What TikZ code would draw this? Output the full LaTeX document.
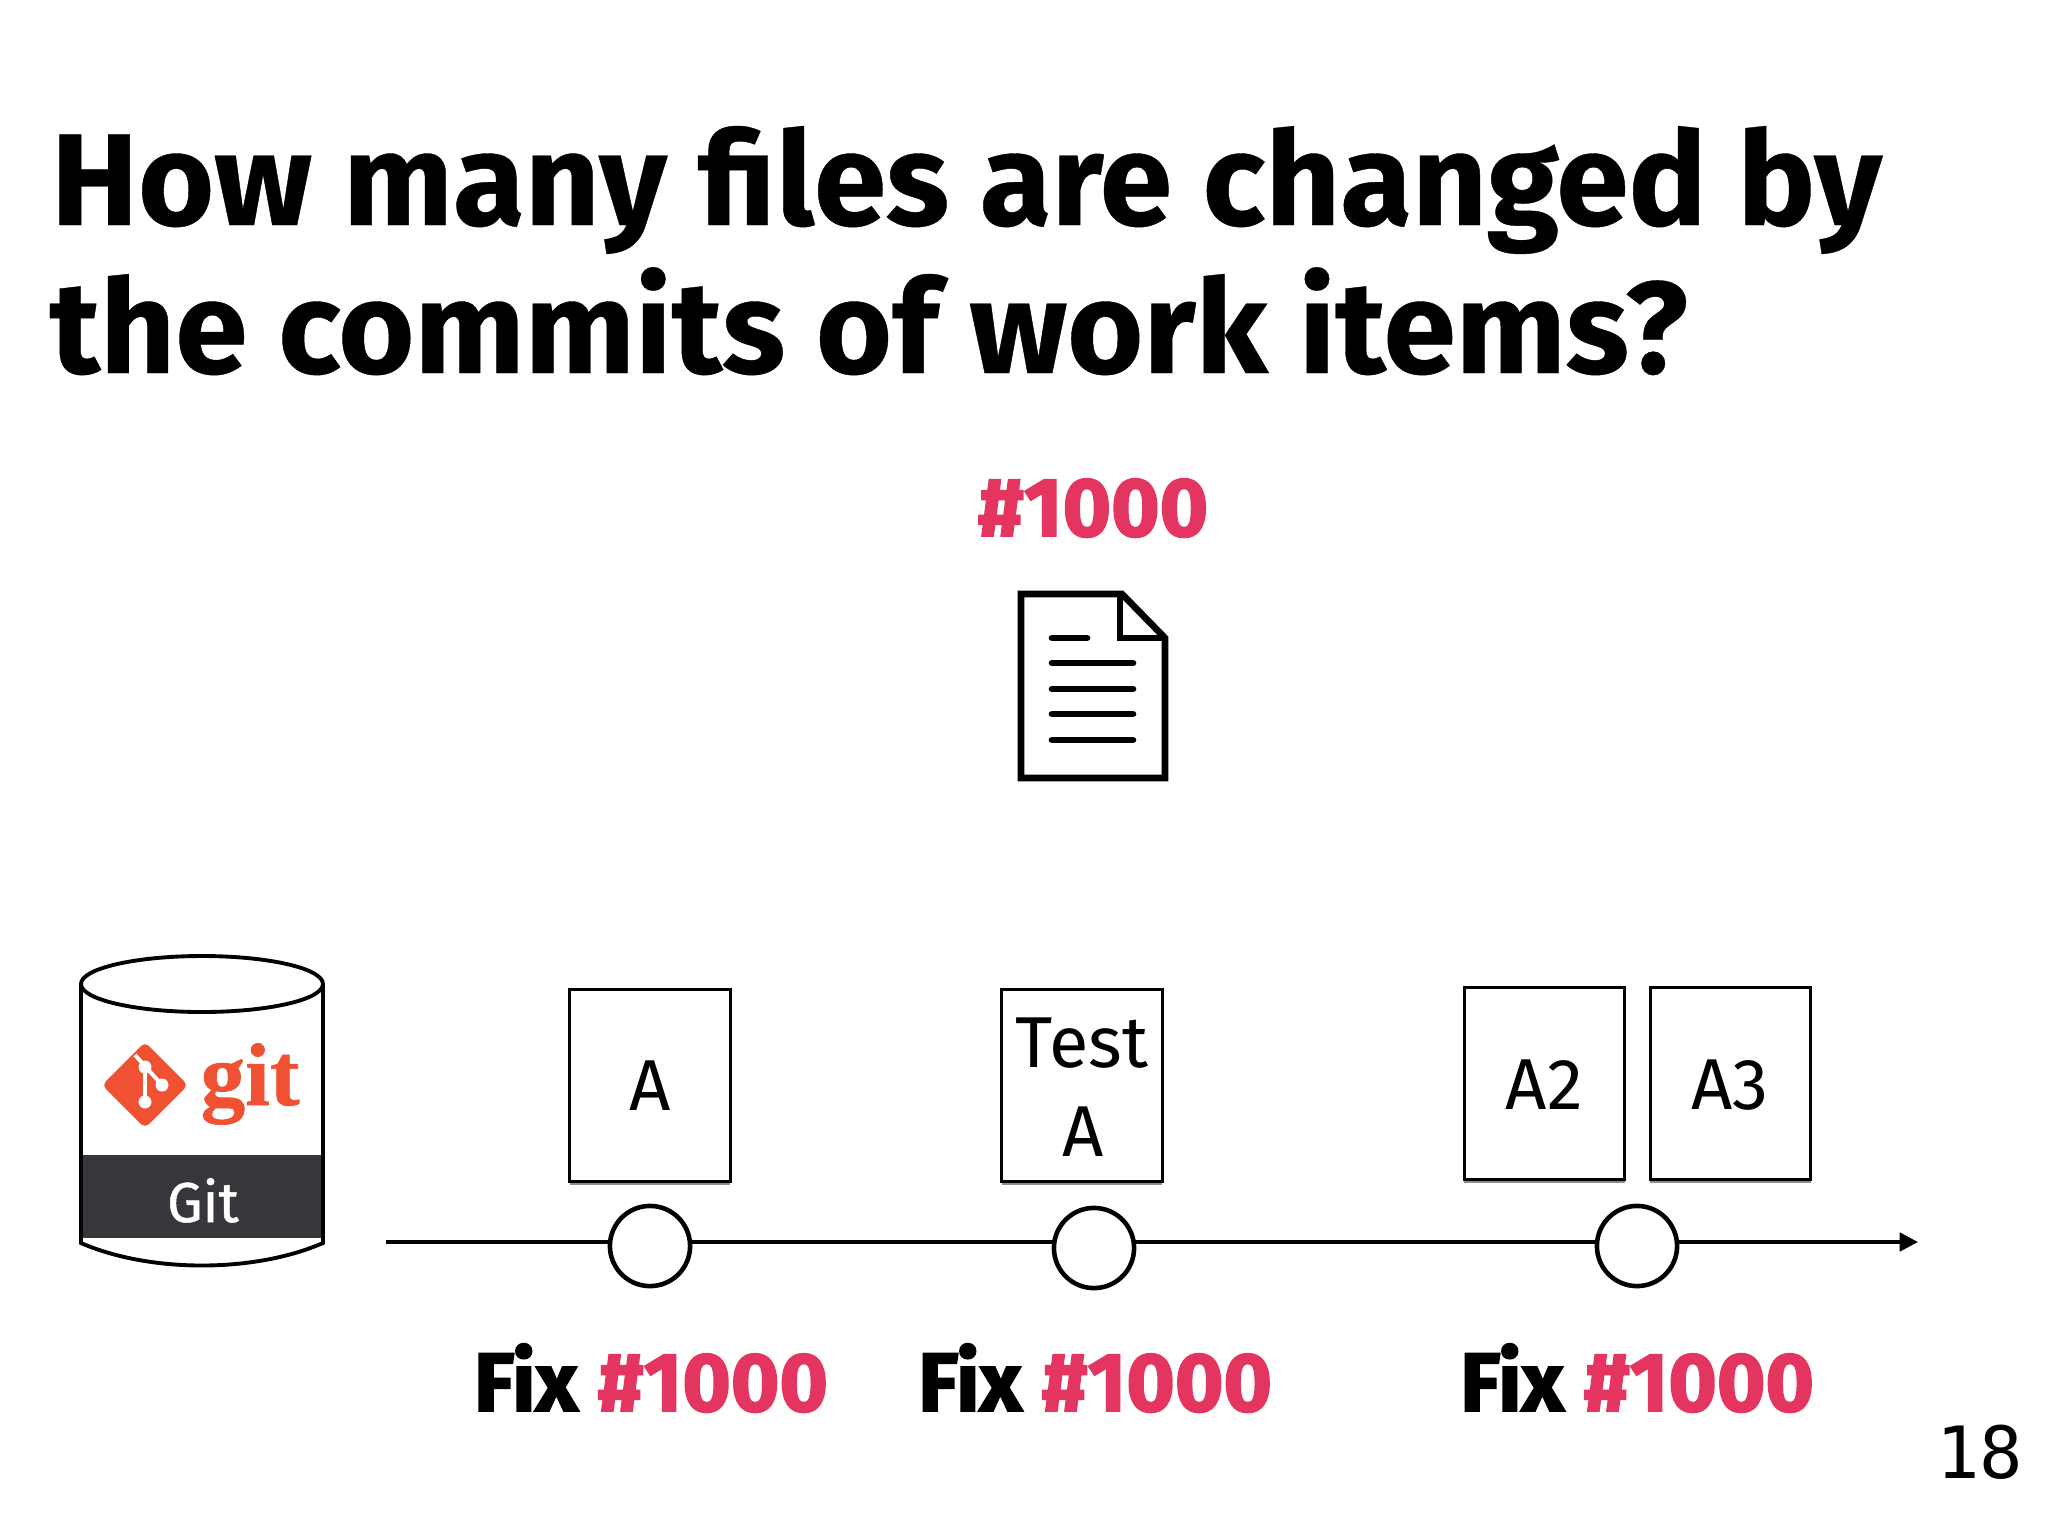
\documentclass[tikz,border=0pt]{standalone}
\usepackage{fontspec}
\usetikzlibrary{arrows.meta,shadows}
\setmainfont{Fira Sans}
\newfontfamily\firaheavy[BoldFeatures={FakeBold=2.2}]{Fira Sans}
\newfontfamily\firaxb[BoldFeatures={FakeBold=0.3}]{Fira Sans}
\newfontfamily\firamed[FakeBold=0.9]{Fira Sans}
\newfontfamily\pagemono{DejaVu Sans Mono}
\newfontfamily\gitserif[BoldFeatures={FakeBold=0.8}]{Liberation Serif}
\definecolor{pinkred}{HTML}{E3355F}
\definecolor{gitorange}{HTML}{F05133}
\definecolor{banddark}{HTML}{38363A}
\tikzset{
  titletext/.style={anchor=base west,inner sep=0pt,font=\firaxb\bfseries\fontsize{37.1}{40}\selectfont},
  fixlabel/.style={anchor=base,inner sep=0pt,font=\firaheavy\bfseries\fontsize{23.6}{26}\selectfont},
  chgbox/.style={draw=black,line width=0.85pt,fill=white,minimum width=45.6pt,inner sep=0pt,
     drop shadow={shadow xshift=0pt,shadow yshift=-1.2pt,opacity=.45,fill=black}},
  boxtext/.style={anchor=base,inner sep=0pt,font=\fontsize{20.5}{24}\selectfont},
  commitnode/.style={circle,draw=black,line width=1.3pt,fill=white,minimum size=22.8pt,inner sep=0pt},
  docline/.style={line width=1.9pt,line cap=round},
  cylline/.style={line width=1.1pt,draw=black},
}
\begin{document}
\begin{tikzpicture}[x=0.01cm,y=-0.01cm]
\useasboundingbox (0,0) rectangle (2048,1536);
% title
\node[titletext] (t1) at (50.5,225) {How many files are changed by};
\node[titletext] (t2) at (49,373) {the commits of work items?};
% issue
\node[fixlabel,text=pinkred] (issue) at (1093,536) {\#1000};
% document icon
\draw[line width=1.9pt,miter limit=10,fill=white] (1021,594) -- (1122,594) -- (1165,638) -- (1165,778) -- (1021,778) -- cycle;
\draw[line width=1.9pt] (1120,594) -- (1120,638) -- (1165,638);
\draw[docline] (1052,638) -- (1087,638);
\foreach \yy in {663,689,714,740} \draw[docline] (1052,\yy) -- (1133,\yy);
% cylinder
\fill[banddark] (79,1155) rectangle (324,1238);
\draw[cylline] (81,984) -- (81,1243) .. controls (150,1273) and (254,1273) .. (323,1243) -- (323,984);
\draw[cylline,fill=white] (202,984) ellipse [x radius=121,y radius=28];
\node[anchor=base,inner sep=0pt,text=white,font=\firamed\fontsize{16}{18}\selectfont] (gitband) at (203,1222) {Git};
% git logo
\fill[gitorange,rounded corners=1.5pt] (145,1042) -- (188,1085) -- (145,1128) -- (102,1085) -- cycle;
\draw[white,line width=1.1pt] (135,1055) -- (162,1085) (145,1067) -- (145,1102);
\fill[white] (145,1067) circle[radius=6.5] (162,1085) circle[radius=6.5] (145,1102) circle[radius=6.5];
\node[anchor=base west,inner sep=0pt,text=gitorange,font=\gitserif\bfseries\fontsize{25.3}{28}\selectfont] (gitlogo) at (200,1105) {git};
% timeline
\coordinate (tlstart) at (386,1242);
\coordinate (tlend) at (1918,1242);
\draw[line width=1.1pt,-{Triangle[length=5.2pt,width=5.2pt]}] (tlstart) -- (tlend);
\node[commitnode] (c1) at (650,1246) {};
\node[commitnode] (c2) at (1094,1248) {};
\node[commitnode] (c3) at (1637,1246) {};
% boxes
\node[chgbox,minimum height=54.6pt] (bA) at (650,1085) {};
\node[chgbox,minimum height=54.6pt] (bT) at (1082,1085) {};
\node[chgbox,minimum height=54.6pt] (bA2) at (1544.5,1083) {};
\node[chgbox,minimum height=54.6pt] (bA3) at (1730.5,1083) {};
\node[boxtext] (tA) at (650,1110) {A};
\node[boxtext] (tT) at (1082,1067) {Test};
\node[boxtext] (tTA) at (1083,1156) {A};
\node[boxtext] (tA2) at (1544,1109) {A2};
\node[boxtext] (tA3) at (1730,1109) {A3};
% labels
\node[fixlabel] (f1) at (651,1411) {Fix \textcolor{pinkred}{\#1000}};
\node[fixlabel] (f2) at (1095,1411) {Fix \textcolor{pinkred}{\#1000}};
\node[fixlabel] (f3) at (1637,1411) {Fix \textcolor{pinkred}{\#1000}};
% page number
\node[anchor=base east,inner sep=0pt,font=\pagemono\fontsize{20.5}{24}\selectfont] (pg) at (2024,1478) {18};
\end{tikzpicture}
\end{document}
